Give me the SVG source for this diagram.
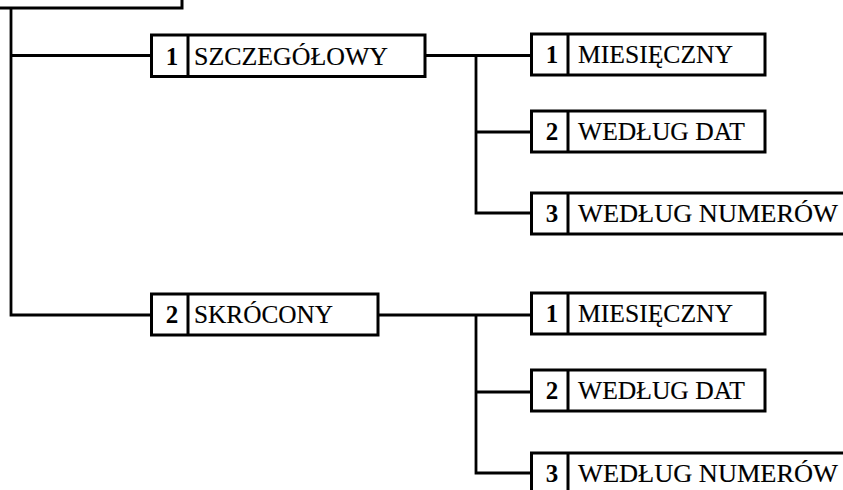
<svg xmlns="http://www.w3.org/2000/svg" width="843" height="490" viewBox="0 0 843 490" font-family="Liberation Serif, DejaVu Serif, Noto Serif, serif">
<style>
.box{fill:#fff;stroke:#000;stroke-width:3}
.div{stroke:#000;stroke-width:3}
.ln{fill:none;stroke:#000;stroke-width:2.8}
text{font-size:25px;fill:#000}
.num{font-weight:bold;text-anchor:middle}
.lab{stroke:#000;stroke-width:0.15}
</style>
<rect width="843" height="490" fill="#fff"/>
<g id="connectors">
<polyline class="ln" points="11,8 11,315 151.5,315"/>
<line class="ln" x1="11" y1="55.5" x2="151.5" y2="55.5"/>
<line class="ln" x1="425" y1="55.5" x2="531.5" y2="55.5"/>
<polyline class="ln" points="476,55.5 476,213 531.5,213"/>
<line class="ln" x1="476" y1="132" x2="531.5" y2="132"/>
<line class="ln" x1="378" y1="315" x2="531.5" y2="315"/>
<polyline class="ln" points="476,315 476,473 531.5,473"/>
<line class="ln" x1="476" y1="392" x2="531.5" y2="392"/>
</g>
<g id="root">
<rect class="box" x="-10" y="-40" width="192" height="48"/>
</g>
<g id="n1">
<rect class="box" x="151.5" y="35" width="273.5" height="41.5"/>
<line class="div" x1="188" y1="35" x2="188" y2="76.5"/>
<text class="num" x="172" y="64.5">1</text>
<text class="lab" x="194" y="64.5" textLength="194" lengthAdjust="spacingAndGlyphs">SZCZEGÓŁOWY</text>
</g>
<g id="n11">
<rect class="box" x="531.5" y="34" width="233.5" height="41"/>
<line class="div" x1="568" y1="34" x2="568" y2="75"/>
<text class="num" x="552" y="62.5">1</text>
<text class="lab" x="578" y="62.5" textLength="155" lengthAdjust="spacingAndGlyphs">MIESIĘCZNY</text>
</g>
<g id="n12">
<rect class="box" x="531.5" y="111" width="233.5" height="41"/>
<line class="div" x1="568" y1="111" x2="568" y2="152"/>
<text class="num" x="552" y="139.5">2</text>
<text class="lab" x="578" y="139.5" textLength="167" lengthAdjust="spacingAndGlyphs">WEDŁUG DAT</text>
</g>
<g id="n13">
<rect class="box" x="531.5" y="193" width="330" height="41"/>
<line class="div" x1="568" y1="193" x2="568" y2="234"/>
<text class="num" x="552" y="221.5">3</text>
<text class="lab" x="578" y="221.5" textLength="260" lengthAdjust="spacingAndGlyphs">WEDŁUG NUMERÓW</text>
</g>
<g id="n2">
<rect class="box" x="151.5" y="294" width="226.5" height="41"/>
<line class="div" x1="188" y1="294" x2="188" y2="335"/>
<text class="num" x="172" y="322.5">2</text>
<text class="lab" x="194" y="322.5" textLength="139" lengthAdjust="spacingAndGlyphs">SKRÓCONY</text>
</g>
<g id="n21">
<rect class="box" x="531.5" y="293" width="233.5" height="41"/>
<line class="div" x1="568" y1="293" x2="568" y2="334"/>
<text class="num" x="552" y="321.5">1</text>
<text class="lab" x="578" y="321.5" textLength="155" lengthAdjust="spacingAndGlyphs">MIESIĘCZNY</text>
</g>
<g id="n22">
<rect class="box" x="531.5" y="370" width="233.5" height="41"/>
<line class="div" x1="568" y1="370" x2="568" y2="411"/>
<text class="num" x="552" y="398.5">2</text>
<text class="lab" x="578" y="398.5" textLength="167" lengthAdjust="spacingAndGlyphs">WEDŁUG DAT</text>
</g>
<g id="n23">
<rect class="box" x="531.5" y="453" width="330" height="41"/>
<line class="div" x1="568" y1="453" x2="568" y2="494"/>
<text class="num" x="552" y="481.5">3</text>
<text class="lab" x="578" y="481.5" textLength="260" lengthAdjust="spacingAndGlyphs">WEDŁUG NUMERÓW</text>
</g>
</svg>
